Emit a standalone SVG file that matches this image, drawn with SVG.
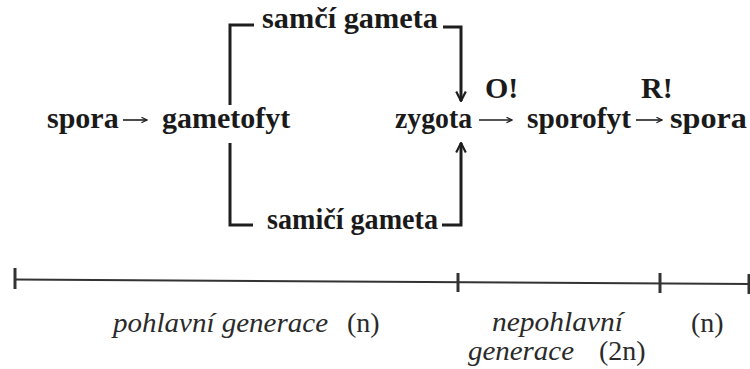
<svg xmlns="http://www.w3.org/2000/svg" width="750" height="369" viewBox="0 0 750 369">
<defs>
<style>
.b{font-family:"Liberation Serif","Times New Roman",serif;font-weight:bold;font-size:30px;fill:#1a1a1a}
.i{font-family:"Liberation Serif","Times New Roman",serif;font-style:italic;font-size:28px;fill:#2a2a2a}
.r{font-family:"Liberation Serif","Times New Roman",serif;font-size:28px;fill:#2a2a2a}
.ln{stroke:#1e1e1e;stroke-width:3;fill:none}
.ar{stroke:#1e1e1e;stroke-width:1.6;fill:none}
.tl{stroke:#333;stroke-width:2;fill:none}
.tk{stroke:#333;stroke-width:3;fill:none}
</style>
<marker id="ah" viewBox="0 0 10 10" refX="9" refY="5" markerWidth="7" markerHeight="7" markerUnits="userSpaceOnUse" orient="auto">
<path d="M1,1 L9,5 L1,9" fill="none" stroke="#1e1e1e" stroke-width="1.6"/>
</marker>
<marker id="ahb" viewBox="0 0 10 10" refX="9" refY="5" markerWidth="12" markerHeight="12" markerUnits="userSpaceOnUse" orient="auto">
<path d="M1,1 L9,5 L1,9" fill="none" stroke="#1e1e1e" stroke-width="1.8"/>
</marker>
</defs>
<rect width="750" height="369" fill="#fff"/>
<g id="n-spora1"><text class="b" x="47" y="128">spora</text></g>
<g id="n-gametofyt"><text class="b" x="162" y="128">gametofyt</text></g>
<g id="n-samci"><text class="b" x="262" y="28" textLength="176" lengthAdjust="spacingAndGlyphs">samčí gameta</text></g>
<g id="n-samici"><text class="b" x="267" y="229" textLength="171" lengthAdjust="spacingAndGlyphs">samičí gameta</text></g>
<g id="n-zygota"><text class="b" x="395" y="128" textLength="77" lengthAdjust="spacingAndGlyphs">zygota</text></g>
<g id="n-sporofyt"><text class="b" x="527" y="128" textLength="104" lengthAdjust="spacingAndGlyphs">sporofyt</text></g>
<g id="n-spora2"><text class="b" x="670" y="128" textLength="77" lengthAdjust="spacingAndGlyphs">spora</text></g>
<g id="l-O"><text class="b" x="485" y="98">O!</text></g>
<g id="l-R"><text class="b" x="641" y="98">R!</text></g>
<g id="connectors">
<line class="ar" x1="123" y1="120" x2="147" y2="120" marker-end="url(#ah)"/>
<line class="ar" x1="479" y1="120" x2="512" y2="120" marker-end="url(#ah)"/>
<line class="ar" x1="636" y1="120" x2="662" y2="120" marker-end="url(#ah)"/>
<polyline class="ln" points="230,105 230,25 254,25"/>
<polyline class="ln" points="230,143 230,225 253,225"/>
<polyline class="ln" points="443,27 461,27 461,101" marker-end="url(#ahb)"/>
<polyline class="ln" points="442,225 461,225 461,143" marker-end="url(#ahb)"/>
</g>
<g id="timeline">
<line class="tl" x1="15" y1="279.5" x2="750" y2="284"/>
<line class="tk" x1="15" y1="268" x2="15" y2="289"/>
<line class="tk" x1="458" y1="273" x2="458" y2="292"/>
<line class="tk" x1="660" y1="273" x2="660" y2="293"/>
<line class="tk" x1="749" y1="274" x2="749" y2="294"/>
</g>
<g id="labels">
<text class="i" x="113" y="332" textLength="215" lengthAdjust="spacingAndGlyphs">pohlavní generace</text>
<text class="r" x="347" y="332">(n)</text>
<text class="i" x="492" y="331" textLength="131" lengthAdjust="spacingAndGlyphs">nepohlavní</text>
<text class="r" x="691" y="332">(n)</text>
<text class="i" x="468" y="360" textLength="106" lengthAdjust="spacingAndGlyphs">generace</text>
<text class="r" x="599" y="360">(2n)</text>
</g>
</svg>
